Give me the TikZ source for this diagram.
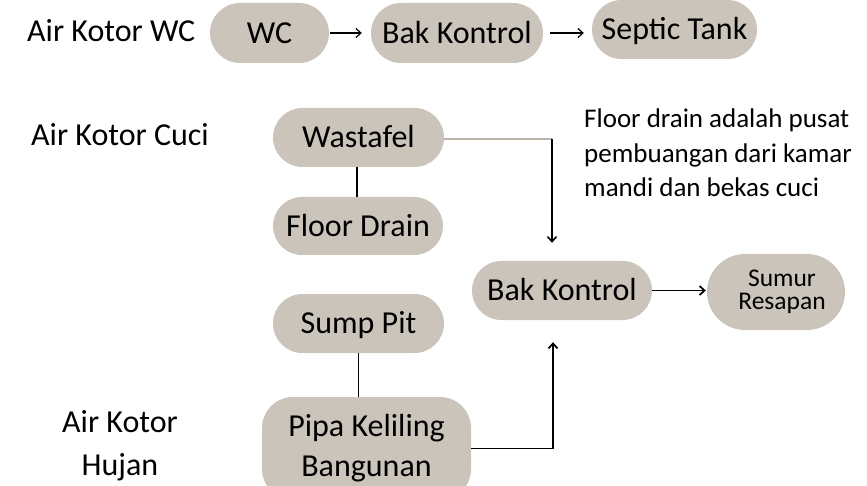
\documentclass[tikz,border=0pt]{standalone}
\usepackage{fontspec}
\setmainfont{Carlito}
\usetikzlibrary{arrows.meta}
\definecolor{pillfill}{RGB}{203,196,186}
\definecolor{pillline}{RGB}{188,180,168}
\begin{document}
\begin{tikzpicture}[x=1pt,y=-1pt,
  every node/.style={font=\fontsize{32}{40}\selectfont},
  pill/.style={fill=pillfill, inner sep=0pt, align=center},
  onel/.style={text height=20.6pt, text depth=0pt},
  lbl/.style={inner sep=0pt, anchor=base west},
  arr/.style={-{Straight Barb[length=5pt,width=9pt]}, line width=1.4pt},
  conn/.style={line width=1.9pt}]
\useasboundingbox (0,0) rectangle (867,486);
\clip (0,0) rectangle (867,486);

% left labels
\node[lbl] (lwc) at (27,42) {Air Kotor WC};
\node[lbl] (lcuci) at (31,146) {Air Kotor Cuci};
\node[inner sep=0pt, anchor=base, align=center, font=\fontsize{32}{43}\selectfont] (lhujan) at (120,475) {Air Kotor\\Hujan};

% top row
\node[pill, onel, minimum width=119pt, minimum height=60pt, rounded corners=30pt] (wc) at (269.5,33) {WC};
\node[pill, onel, minimum width=172pt, minimum height=60pt, rounded corners=30pt] (bk1) at (457,33) {Bak Kontrol};
\node[pill, onel, minimum width=165pt, minimum height=59pt, rounded corners=29.5pt] (st) at (674.5,29.5) {Septic Tank};

\draw[arr, line width=1.2pt] ([xshift=1pt]wc.east) -- ([xshift=-9pt]bk1.west);
\draw[arr, line width=1.2pt] ([xshift=7pt]bk1.east) -- ([xshift=-8pt]bk1.east -| st.west);

% middle
\node[pill, onel, minimum width=171pt, minimum height=59pt, rounded corners=29.5pt] (was) at (358.5,137.5) {Wastafel};
\node[pill, onel, minimum width=170pt, minimum height=58pt, rounded corners=29pt] (fd) at (358,226) {Floor Drain};
\node[pill, onel, minimum width=180pt, minimum height=59pt, rounded corners=29.5pt] (bk2) at (562,290.5) {Bak Kontrol};
\node[pill, minimum width=138pt, minimum height=76pt, rounded corners=38pt, font=\fontsize{25.5}{23}\selectfont] (sr) at (776,292) {\hspace*{12pt}Sumur\\\hspace*{12pt}Resapan};
\node[pill, onel, minimum width=171pt, minimum height=59pt, rounded corners=29.5pt] (sp) at (358.5,323.5) {Sump Pit};
\node[pill, minimum width=209pt, minimum height=103pt, rounded corners=31pt] (pk) at (366.5,448.5) {Pipa Keliling\\Bangunan};

\node[lbl, align=left, font=\fontsize{27}{34.5}\selectfont] (note) at (584,197) {Floor drain adalah pusat\\pembuangan dari kamar\\mandi dan bekas cuci};

% connectors
\coordinate (c1) at (552,139);
\draw[pillline, line width=1.6pt] (was.east |- c1) -- (c1);
\draw[arr, line width=1.6pt] (c1) -- (c1 |- bk2.north) [shorten >=18pt];
\draw[conn] ([xshift=-1.5pt]was.south) -- ([xshift=-1.5pt]was.south |- fd.north);
\draw[conn] (sp.south) -- (sp.south |- pk.north);
\draw[arr, line width=1.7pt, shorten >=22pt] (pk.east) -| ([xshift=-9pt]bk2.south);
\draw[arr, line width=1.7pt, shorten >=1pt] (bk2.east) -- (bk2.east -| sr.west);
\end{tikzpicture}
\end{document}
